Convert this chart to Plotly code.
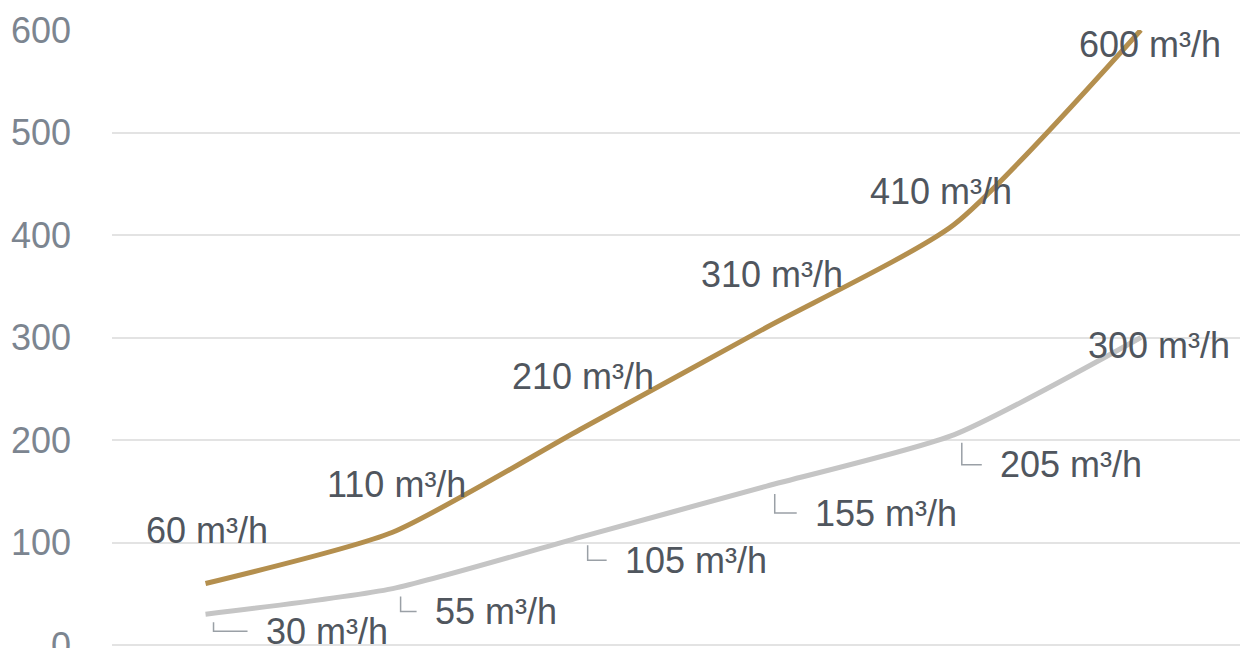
import plotly.graph_objects as go

categories = ["c1", "c2", "c3", "c4", "c5", "c6"]
gold_values = [60, 110, 210, 310, 410, 600]
gray_values = [30, 55, 105, 155, 205, 300]
unit = " m³/h"
y_ticks = [0, 100, 200, 300, 400, 500, 600]

FONT = "Liberation Sans Narrow, Arial Narrow, Liberation Sans, Arial, sans-serif"
GOLD = "#b48f4e"
GRAY = "#c5c5c5"
LABEL_COLOR = "#50565e"
TICK_COLOR = "#7c8590"
FS = 36

fig = go.Figure()
fig.add_trace(go.Scatter(x=categories, y=gray_values, mode="lines",
                         line=dict(color=GRAY, width=5, shape="spline", smoothing=0.6),
                         hoverinfo="skip", showlegend=False))
fig.add_trace(go.Scatter(x=categories, y=gold_values, mode="lines",
                         line=dict(color=GOLD, width=5, shape="spline", smoothing=0.6),
                         hoverinfo="skip", showlegend=False))

# gold labels: (xshift, yshift) in pixels, centered
gold_offsets = [(1, 53), (4, 48), (3, 53), (5, 53), (-13, 33), (9, -14)]
for c, v, (dx, dy) in zip(categories, gold_values, gold_offsets):
    fig.add_annotation(x=c, y=v, text=f"{v}{unit}", showarrow=False,
                       xanchor="center", yanchor="middle", xshift=dx, yshift=dy,
                       font=dict(family=FONT, size=FS, color=LABEL_COLOR))

# gray labels: left-anchored, with L-shaped leader lines
gray_offsets = [(58, -17), (40, -23), (43, -23), (46, -27), (44, -30), (-55, -8)]
gray_leaders = [True, True, True, True, True, False]
for c, v, (dx, dy), lead in zip(categories, gray_values, gray_offsets, gray_leaders):
    fig.add_annotation(x=c, y=v, text=f"{v}{unit}", showarrow=False,
                       xanchor="left", yanchor="middle", xshift=dx, yshift=dy,
                       font=dict(family=FONT, size=FS, color=LABEL_COLOR))
    if lead:
        fig.add_shape(type="path", xref="x", yref="y",
                      xsizemode="pixel", ysizemode="pixel",
                      xanchor=c, yanchor=v,
                      path=f"M 8,-8 L 8,{dy} L {dx-16},{dy}",
                      line=dict(color="#9aa0a6", width=1.5))

fig.update_layout(
    width=1246, height=648,
    margin=dict(l=112, r=6, t=30, b=0, autoexpand=False),
    paper_bgcolor="white", plot_bgcolor="white",
    xaxis=dict(type="category", range=[-0.5, 5.53], showticklabels=False,
               showgrid=False, zeroline=False, showline=False, ticks="",
               automargin=False),
    yaxis=dict(range=[-2.93, 600], tickvals=y_ticks, showgrid=True,
               gridcolor="#e3e3e3", gridwidth=2, zeroline=False, showline=False,
               ticks="", ticklabelstandoff=40, ticklabeloverflow="allow",
               automargin=False,
               tickfont=dict(family=FONT, size=FS, color=TICK_COLOR)),
)

fig.write_html("out.html")
